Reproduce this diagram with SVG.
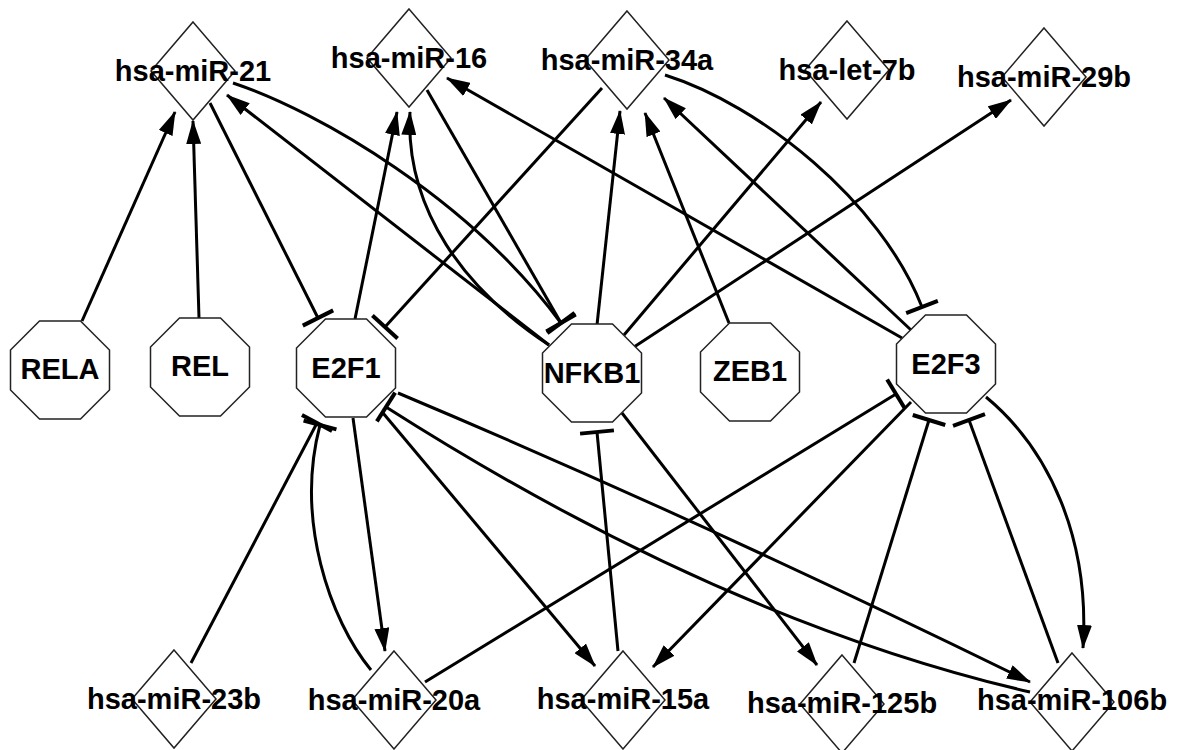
<svg xmlns="http://www.w3.org/2000/svg" width="1184" height="750" viewBox="0 0 1184 750">
<defs>
<style>
.e{fill:none;stroke:#000;stroke-width:3}
.a{marker-end:url(#arr)}
.t{marker-end:url(#tee)}
.n{fill:#fff;stroke:#222;stroke-width:1.5}
text{font-family:"Liberation Sans",Arial,sans-serif;font-weight:bold;font-size:29px;text-anchor:middle;fill:#000}
</style>
<marker id="arr" markerUnits="userSpaceOnUse" viewBox="0 0 24 15" refX="23" refY="7.5" markerWidth="24" markerHeight="15" orient="auto"><path d="M0,0 L24,7.5 L0,15 z" fill="#000"/></marker>
<marker id="tee" markerUnits="userSpaceOnUse" viewBox="-3 -18 6 36" refX="0" refY="0" markerWidth="6" markerHeight="36" orient="auto"><path d="M0,-17 V17" stroke="#000" stroke-width="4"/></marker>
<polygon id="dia" points="0,-49 42,0 0,49 -42,0"/>
<polygon id="oct" points="-20.5,-49 20.5,-49 49.5,-20 49.5,20 20.5,49 -20.5,49 -49.5,20 -49.5,-20"/>
</defs>
<rect width="1184" height="750" fill="#fff"/>
<g id="edges">
<path class="e a" d="M82,321 L175,112"/>
<path class="e a" d="M199,318 L193,121"/>
<path class="e t" d="M210,103 L318,318"/>
<path class="e a" d="M549,345 L227,95"/>
<path class="e t" d="M233,83 C320,112 470,200 561,323"/>
<path class="e a" d="M355,319 L397,112"/>
<path class="e a" d="M549,345 C465,290 405,210 410,112"/>
<path class="e t" d="M427,90 L561,323"/>
<path class="e a" d="M902,338 L447,78"/>
<path class="e t" d="M602,88 L385,327"/>
<path class="e a" d="M597,325 L620,111"/>
<path class="e a" d="M729,323 L645,113"/>
<path class="e a" d="M911,330 L664,98"/>
<path class="e t" d="M665,75 C760,105 880,200 922,307"/>
<path class="e a" d="M624,335 L821,102"/>
<path class="e a" d="M634,347 L1011,100"/>
<path class="e t" d="M191,663 L317,423"/>
<path class="e t" d="M371,670 C330,620 295,520 320,425"/>
<path class="e a" d="M353,418 L385,651"/>
<path class="e a" d="M383,413 L595,666"/>
<path class="e a" d="M398,393 Q700,520 1030,682"/>
<path class="e t" d="M1030,692 Q720,620 386,407"/>
<path class="e t" d="M618,651 L597,432"/>
<path class="e a" d="M622,413 L817,665"/>
<path class="e t" d="M425,682 L896,394"/>
<path class="e a" d="M911,402 L653,667"/>
<path class="e t" d="M854,663 L929,420"/>
<path class="e t" d="M1058,663 L969,420"/>
<path class="e a" d="M986,397 C1050,450 1090,540 1083,648"/>
</g>
<g id="hsa-miR-21" transform="translate(193,71)"><use href="#dia" class="n"/><text y="10">hsa-miR-21</text></g>
<g id="hsa-miR-16" transform="translate(409,58)"><use href="#dia" class="n"/><text y="10">hsa-miR-16</text></g>
<g id="hsa-miR-34a" transform="translate(627,60)"><use href="#dia" class="n"/><text y="10">hsa-miR-34a</text></g>
<g id="hsa-let-7b" transform="translate(847,70)"><use href="#dia" class="n"/><text y="10">hsa-let-7b</text></g>
<g id="hsa-miR-29b" transform="translate(1044,77)"><use href="#dia" class="n"/><text y="10">hsa-miR-29b</text></g>
<g id="hsa-miR-23b" transform="translate(174,699)"><use href="#dia" class="n"/><text y="10">hsa-miR-23b</text></g>
<g id="hsa-miR-20a" transform="translate(394,700)"><use href="#dia" class="n"/><text y="10">hsa-miR-20a</text></g>
<g id="hsa-miR-15a" transform="translate(623,700)"><use href="#dia" class="n"/><text y="9">hsa-miR-15a</text></g>
<g id="hsa-miR-125b" transform="translate(842,704)"><use href="#dia" class="n"/><text y="9">hsa-miR-125b</text></g>
<g id="hsa-miR-106b" transform="translate(1072,702)"><use href="#dia" class="n"/><text y="8">hsa-miR-106b</text></g>
<g id="RELA" transform="translate(60,370)"><use href="#oct" class="n"/><text y="9">RELA</text></g>
<g id="REL" transform="translate(200,367)"><use href="#oct" class="n"/><text y="9">REL</text></g>
<g id="E2F1" transform="translate(346,368)"><use href="#oct" class="n"/><text y="10">E2F1</text></g>
<g id="NFKB1" transform="translate(592,373)"><use href="#oct" class="n"/><text y="10">NFKB1</text></g>
<g id="ZEB1" transform="translate(750,372)"><use href="#oct" class="n"/><text y="9">ZEB1</text></g>
<g id="E2F3" transform="translate(946,364)"><use href="#oct" class="n"/><text y="10">E2F3</text></g>
</svg>
